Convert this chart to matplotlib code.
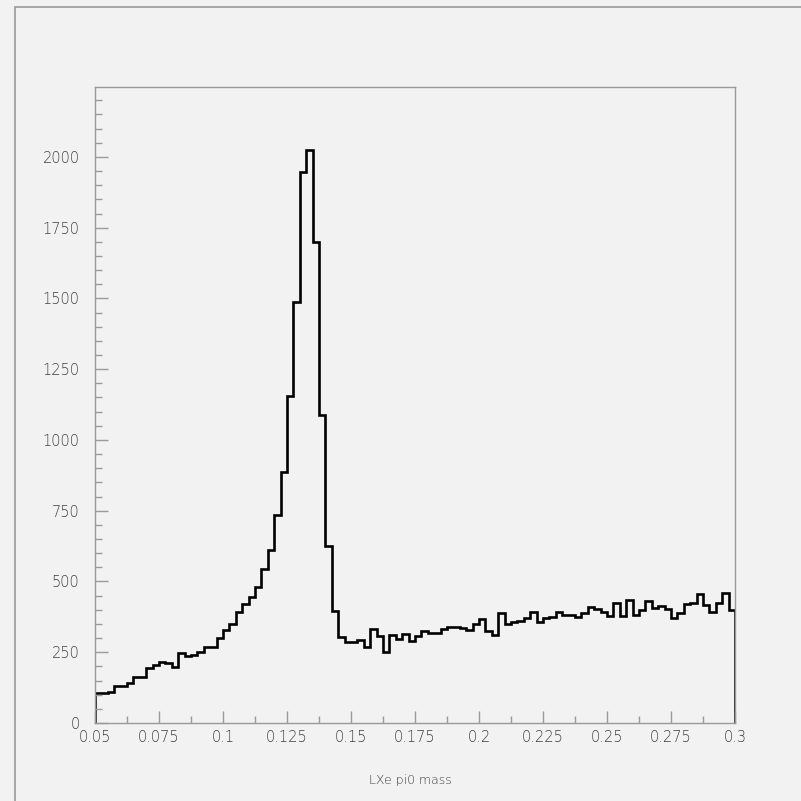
import numpy as np
import matplotlib
matplotlib.use("Agg")
import matplotlib.pyplot as plt
from matplotlib.patches import Rectangle
from matplotlib.ticker import MultipleLocator, FuncFormatter

# LXe pi0 invariant mass, 100 bins between 0.05 and 0.3
mass_lo, mass_hi, n_bins = 0.05, 0.3, 100
counts = [
    107, 107, 111, 131, 131, 143, 161, 161, 193, 205,
    214, 211, 199, 246, 237, 240, 252, 270, 270, 299,
    329, 349, 393, 419, 444, 479, 543, 611, 735, 886,
    1156, 1487, 1948, 2023, 1699, 1087, 625, 397, 303, 287,
    287, 293, 270, 331, 307, 250, 311, 297, 315, 291,
    307, 325, 317, 317, 332, 340, 340, 335, 329, 349,
    368, 326, 311, 388, 349, 358, 362, 370, 393, 358,
    372, 376, 393, 382, 382, 376, 390, 409, 402, 393,
    379, 423, 379, 435, 382, 399, 432, 405, 413, 402,
    370, 388, 419, 423, 456, 417, 393, 423, 458, 399,
]
x_label = "LXe pi0 mass"

bg = "#f2f2f2"
frame_col = "#9a9a9a"
text_col = "#404040"

plt.rcParams["font.family"] = ["DejaVu Sans"]
plt.rcParams["font.weight"] = "light"

fig = plt.figure(figsize=(8.01, 8.01), dpi=100, facecolor=bg)
ax = fig.add_axes([95 / 801, 78 / 801, 640 / 801, 636 / 801], facecolor=bg)

# pad frame around the whole canvas
fig.patches.append(Rectangle((15 / 801, -0.01), 1.0, 1 - 7 / 801 + 0.01,
                             transform=fig.transFigure, fill=False,
                             edgecolor=frame_col, linewidth=1.2))

edges = np.linspace(mass_lo, mass_hi, n_bins + 1)
ax.stairs(counts, edges, baseline=0, color="black", linewidth=1.9)

ax.set_xlim(mass_lo, mass_hi)
ax.set_ylim(0, 2247)

for s in ax.spines.values():
    s.set_color(frame_col)
    s.set_linewidth(1.0)

ax.xaxis.set_major_locator(MultipleLocator(0.025))
ax.xaxis.set_minor_locator(MultipleLocator(0.0125))
ax.yaxis.set_major_locator(MultipleLocator(250))
ax.yaxis.set_minor_locator(MultipleLocator(50))
ax.xaxis.set_major_formatter(FuncFormatter(lambda v, p: f"{v:.4f}".rstrip("0").rstrip(".")))

ax.tick_params(axis="both", which="both", direction="in", color=frame_col,
               labelcolor=text_col, labelsize=10.5)
ax.tick_params(axis="both", which="major", length=9, width=1.0)
ax.tick_params(axis="both", which="minor", length=5, width=1.0)
ax.tick_params(axis="y", pad=11)
ax.tick_params(axis="x", pad=5)

fig.text(410 / 801, 1 - 780 / 801, x_label, ha="center", va="center",
         color=text_col, fontsize=9)

fig.savefig("out.png", dpi=100, facecolor=bg)
